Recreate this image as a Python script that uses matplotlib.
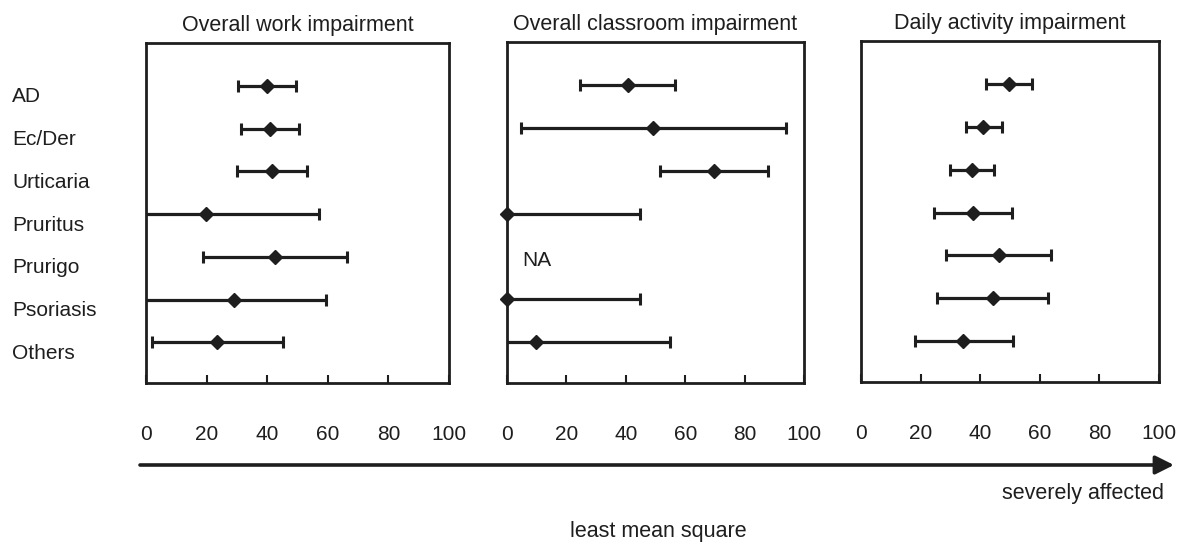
import matplotlib.pyplot as plt
import numpy as np
from matplotlib.transforms import blended_transform_factory

plt.rcParams['font.family'] = ['Liberation Sans', 'DejaVu Sans']

cats = ['AD', 'Ec/Der', 'Urticaria', 'Pruritus', 'Prurigo', 'Psoriasis', 'Others']
titles = ['Overall work impairment', 'Overall classroom impairment', 'Daily activity impairment']
ticks = [0, 20, 40, 60, 80, 100]

# least mean square, lower and upper limits
work_mean = [39.8, 40.9, 41.6, 19.8, 42.7, 29.0, 23.3]
work_lo = [30.3, 31.2, 29.9, -17.6, 18.7, -1.4, 1.9]
work_hi = [49.5, 50.5, 53.0, 57.2, 66.4, 59.4, 45.1]

class_mean = [40.7, 49.2, 69.7, 0.0, np.nan, 0.0, 9.9]
class_lo = [24.7, 4.8, 51.6, -44.7, np.nan, -44.7, -35.0]
class_hi = [56.7, 94.1, 87.9, 44.7, np.nan, 44.7, 54.8]

daily_mean = [49.7, 41.0, 37.2, 37.5, 46.2, 44.2, 34.3]
daily_lo = [41.9, 35.4, 29.8, 24.5, 28.5, 25.6, 18.2]
daily_hi = [57.3, 47.2, 44.6, 50.8, 63.7, 62.9, 50.9]

means = [work_mean, class_mean, daily_mean]
lows = [work_lo, class_lo, daily_lo]
highs = [work_hi, class_hi, daily_hi]

W, H = 1177, 543
fig = plt.figure(figsize=(W/100, H/100), dpi=100)
boxes = [(146, 43, 303, 340), (507, 42, 297, 341), (861, 41, 298, 341)]
ink = '#1e1e1e'

axes = []
for k in range(3):
    x0, y0, w, h = boxes[k]
    ax = fig.add_axes([x0/W, 1 - (y0 + h)/H, w/W, h/H])
    axes.append(ax)
    y = np.arange(1, len(cats) + 1)
    m = np.array(means[k])
    lo = np.array(lows[k])
    hi = np.array(highs[k])
    ok = ~np.isnan(m)
    ax.errorbar(m[ok], y[ok], xerr=[m[ok] - lo[ok], hi[ok] - m[ok]], fmt='none',
                ecolor=ink, elinewidth=2.3, capsize=4.6, capthick=2.2)
    ax.plot(m[ok], y[ok], 'D', color=ink, ms=7, clip_on=False, zorder=5)
    ax.set_xlim(0, 100)
    ax.set_ylim(7.95, 0)
    ax.set_yticks([])
    ax.set_xticks(ticks)
    ax.set_xticklabels([str(t) for t in ticks])
    ax.tick_params(axis='x', direction='in', length=6, width=1.5, color=ink,
                   pad=30, labelsize=15, labelcolor=ink)
    for s in ax.spines.values():
        s.set_linewidth(2.0)
        s.set_color(ink)
    ax.set_title(titles[k], fontsize=15.5, pad=8.5, color=ink)

axes[1].text(5.3, 5.1, 'NA', fontsize=15, color=ink, ha='left', va='center')

tr = blended_transform_factory(fig.transFigure, axes[0].transData)
for i, c in enumerate(cats):
    axes[0].text(12/W, i + 1 + 0.26, c, transform=tr, fontsize=15, color=ink,
                 ha='left', va='center', clip_on=False)

fig.add_artist(plt.Annotation('', xy=(1174/W, 1 - 465/H), xytext=(140/W, 1 - 465/H),
                              xycoords='figure fraction', textcoords='figure fraction',
                              arrowprops=dict(arrowstyle='-|>', lw=2.6, color=ink,
                                              mutation_scale=28, shrinkA=0, shrinkB=0)))
fig.text(1164/W, 1 - 494/H, 'severely affected', fontsize=15.5, color=ink, ha='right', va='center')
fig.text(658/W, 1 - 532/H, 'least mean square', fontsize=15.5, color=ink, ha='center', va='center')

plt.savefig('out.png', dpi=100)
